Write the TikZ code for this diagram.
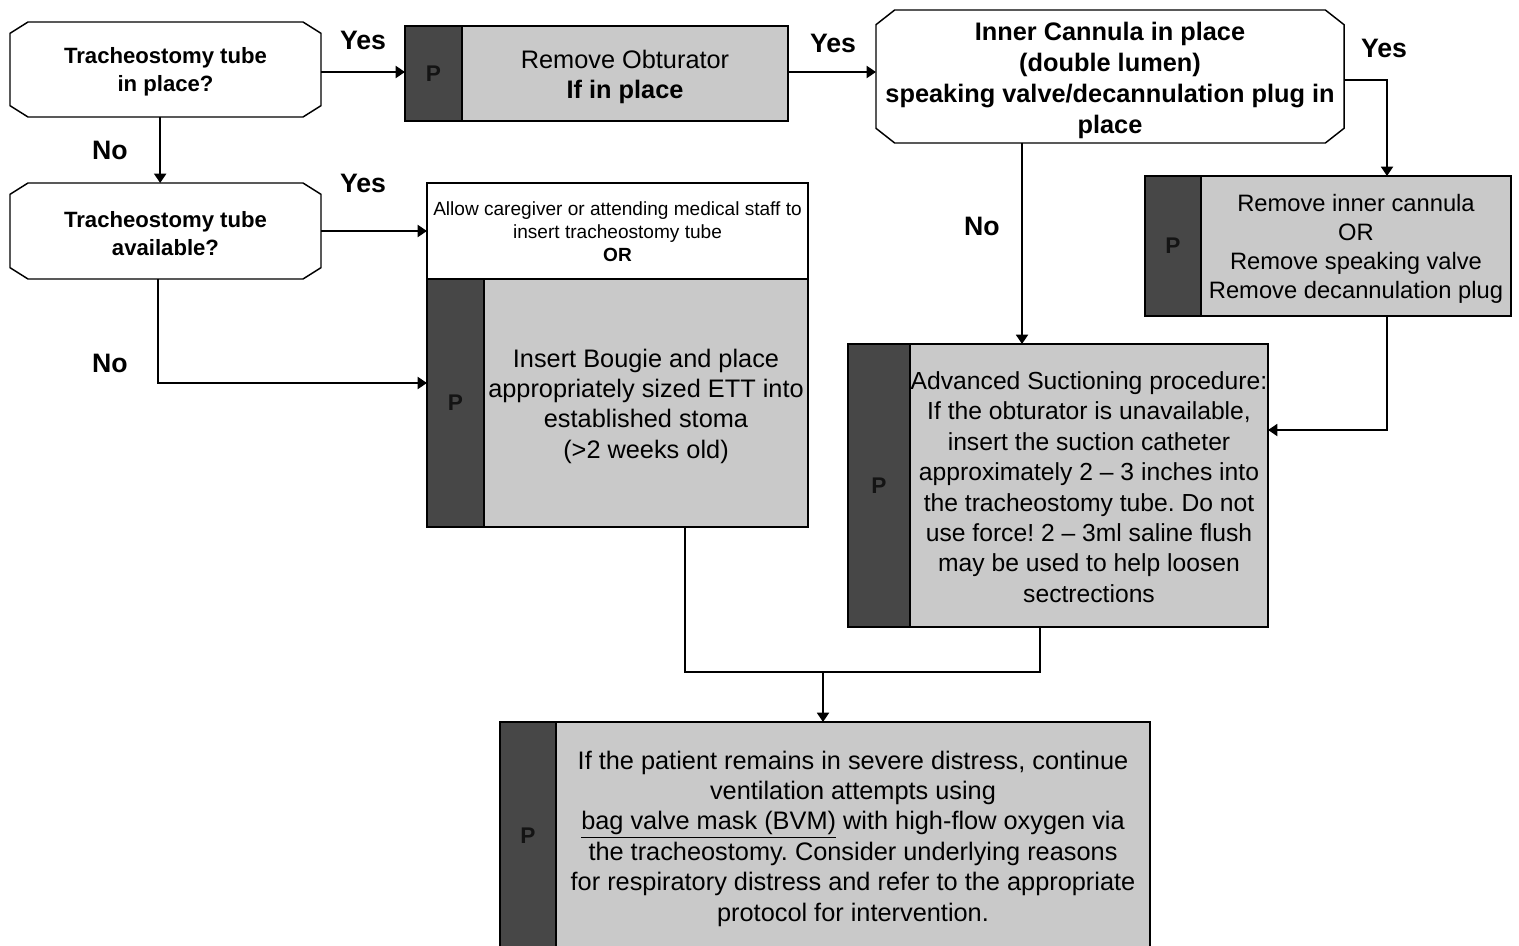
\documentclass[tikz,border=0pt]{standalone}
\usepackage{fontspec}
\setmainfont{Liberation Sans}
\usetikzlibrary{arrows.meta,calc}
\frenchspacing
\newcommand{\chamfbox}[3]{%
  \draw[line width=1.1pt] ([xshift=#2]#1.north west) -- ([xshift=-#2]#1.north east)
    -- ([yshift=-#3]#1.north east) -- ([yshift=#3]#1.south east)
    -- ([xshift=-#2]#1.south east) -- ([xshift=#2]#1.south west)
    -- ([yshift=#3]#1.south west) -- ([yshift=-#3]#1.north west) -- cycle;}
\begin{document}
\begin{tikzpicture}[x=0.75pt,y=-0.75pt,
  decision/.style={rectangle, draw=none, fill=white, inner sep=0pt, outer sep=0pt},
  dtext/.style={align=center, inner sep=0pt, font=\bfseries\fontsize{16.6}{21}\selectfont},
  bar/.style={rectangle, draw=black, line width=1.1pt, fill=black!72, inner sep=0pt, outer sep=0pt,
    text=black!92, font=\bfseries\fontsize{17}{18}\selectfont},
  proc/.style={rectangle, draw=black, line width=1.1pt, fill=black!21, inner sep=0pt, outer sep=0pt},
  plain/.style={rectangle, draw=black, line width=1.1pt, fill=white, inner sep=0pt, outer sep=0pt},
  ptext/.style={align=center, inner sep=0pt, font=\fontsize{19}{22.8}\selectfont},
  lbl/.style={font=\bfseries\fontsize{20}{24}\selectfont},
  arr/.style={line width=1.4pt, -{Triangle[length=7pt,width=9pt]}},
  ln/.style={line width=1.4pt}]
\useasboundingbox (0,0) rectangle (1519,945);

% decisions
\node[decision, minimum width=233.25pt, minimum height=71.25pt] (d1) at (165.5,69.5) {};
\chamfbox{d1}{13.5pt}{8.5pt}
\node[dtext] (d1t) at (165.5,72) {Tracheostomy tube\\in place?};
\node[decision, minimum width=233.25pt, minimum height=72pt] (d2) at (165.5,231) {};
\chamfbox{d2}{13.5pt}{8.5pt}
\node[dtext] (d2t) at (165.5,234) {Tracheostomy tube\\available?};
\node[decision, minimum width=351pt, minimum height=99.75pt] (ic) at (1110,76.5) {};
\chamfbox{ic}{14pt}{11pt}
\node[dtext, font=\bfseries\fontsize{19}{23.2}\selectfont] (ict) at (1110,80.5)
  {Inner Cannula in place\\(double lumen)\\speaking valve/decannulation plug in\\place};

% Remove obturator
\node[bar, minimum width=42.75pt, minimum height=71.25pt, anchor=west] (robar) at (405,73.5) {P};
\node[proc, minimum width=244.5pt, minimum height=71.25pt, anchor=west] (rotext) at (robar.east) {};
\node[ptext] (rot) at ([yshift=-2.6pt]rotext.center) {Remove Obturator\\\textbf{If in place}};

% Remove inner cannula
\node[bar, minimum width=42pt, minimum height=105pt, anchor=west] (ricbar) at (1145,246) {P};
\node[proc, minimum width=232.5pt, minimum height=105pt, anchor=west] (rictext) at (ricbar.east) {};
\node[ptext, font=\fontsize{17.8}{21.8}\selectfont] (rict) at ([yshift=-2.3pt]rictext.center)
  {Remove inner cannula\\OR\\Remove speaking valve\\Remove decannulation plug};

% Advanced suctioning
\node[bar, minimum width=46.5pt, minimum height=212.25pt, anchor=west] (advbar) at (848,485.5) {P};
\node[proc, minimum width=268.5pt, minimum height=212.25pt, anchor=west] (advtext) at (advbar.east) {};
\node[ptext, font=\fontsize{18.5}{22.8}\selectfont] (advt) at ([yshift=-1.2pt]advtext.center)
  {Advanced Suctioning procedure:\\If the obturator is unavailable,\\insert the suction catheter\\approximately 2 -- 3 inches into\\the tracheostomy tube. Do not\\use force! 2 -- 3ml saline flush\\may be used to help loosen\\sectrections};

% Allow caregiver / Insert bougie
\node[plain, minimum width=285.75pt, minimum height=72pt] (allow) at (617.5,231) {};
\node[ptext, font=\fontsize{14.3}{17.3}\selectfont] (allowt) at ([yshift=-0.8pt]allow.center)
  {Allow caregiver or attending medical staff to\\insert tracheostomy tube\\\textbf{OR}};
\node[bar, minimum width=42.75pt, minimum height=186pt, anchor=west] (insbar) at (427,403) {P};
\node[proc, minimum width=243pt, minimum height=186pt, anchor=west] (instext) at (insbar.east) {};
\node[ptext] (inst) at ([yshift=-2.3pt]instext.center)
  {Insert Bougie and place\\appropriately sized ETT into\\established stoma\\(>2 weeks old)};

% Bottom box
\node[bar, minimum width=42pt, minimum height=171pt, anchor=west] (botbar) at (500,836) {P};
\node[proc, minimum width=445.5pt, minimum height=171pt, anchor=west] (bottext) at (botbar.east) {};
\node[ptext] (bott) at ([yshift=-1.9pt]bottext.center)
  {If the patient remains in severe distress, continue\\ventilation attempts using\\\underline{bag valve mask (BVM)} with high-flow oxygen via\\the tracheostomy. Consider underlying reasons\\for respiratory distress and refer to the appropriate\\protocol for intervention.};

% coordinates
\coordinate (yc) at (1387,80);
\coordinate (c430) at (1387,430);
\coordinate (nc) at (1022,143);
\coordinate (noel) at (158,383);
\coordinate (ma) at (685,672);
\coordinate (mb) at (1040,672);
\coordinate (m) at (823,672);
\coordinate (y1) at (0,72);

% connectors
\draw[arr] (y1 -| d1.east) -- (y1 -| robar.west);
\draw[arr] ([xshift=-4pt]d1.south) -- ([xshift=-4pt]d2.north);
\draw[arr] (d2.east) -- (d2.east -| allow.west);
\draw[arr] (noel |- d2.south) -- (noel) -- (noel -| insbar.west);
\draw[arr] (y1 -| rotext.east) -- (y1 -| ic.west);
\draw[arr] (yc -| ic.east) -- (yc) -- (yc |- rictext.north);
\draw[arr] (nc |- ic.south) -- (nc |- advtext.north);
\draw[arr] (yc |- rictext.south) -- (c430) -- (c430 -| advtext.east);
\draw[ln] (ma |- instext.south) -- (ma) -- (mb) -- (mb |- advtext.south);
\draw[arr] (m) -- (m |- bottext.north);

% labels
\node[lbl] (l1) at (363,40) {Yes};
\node[lbl] (l2) at (110,150) {No};
\node[lbl] (l3) at (363,183) {Yes};
\node[lbl] (l4) at (110,363) {No};
\node[lbl] (l5) at (833,43) {Yes};
\node[lbl] (l6) at (1384,48) {Yes};
\node[lbl] (l7) at (982,226) {No};
\end{tikzpicture}
\end{document}
